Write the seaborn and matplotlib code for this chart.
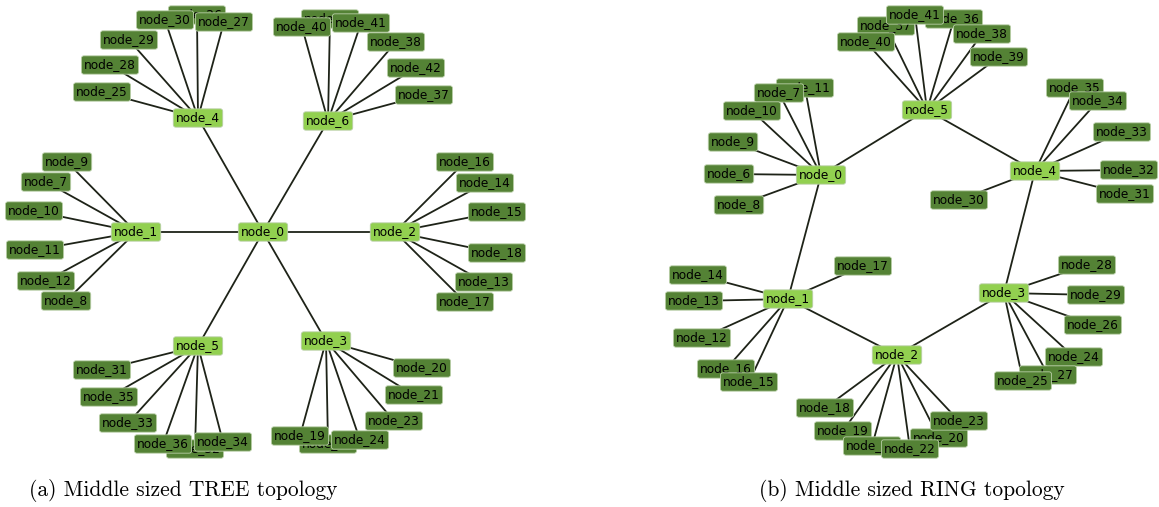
import matplotlib
matplotlib.use("Agg")
import matplotlib.pyplot as plt
import seaborn as sns
import pandas as pd

# ---------------- TREE topology ----------------
tree_hubs = ["node_0", "node_1", "node_2", "node_3", "node_4", "node_5", "node_6"]
tree_hub_x = [263, 136, 395, 326, 198, 198, 328]
tree_hub_y = [232, 232, 232, 341, 118, 346, 121]
tree_hub_links = [(0, 1), (0, 2), (0, 3), (0, 4), (0, 5), (0, 6)]

# leaves listed in drawing order (later ones sit on top)
tree_leaf_ids = [9, 7, 10, 11, 12, 8,
                 25, 28, 29, 26, 30, 27,
                 39, 40, 41, 38, 42, 37,
                 16, 14, 15, 18, 13, 17,
                 31, 35, 33, 32, 36, 34,
                 20, 21, 23, 22, 19, 24]
tree_leaf_parent = [1] * 6 + [4] * 6 + [6] * 6 + [2] * 6 + [5] * 6 + [3] * 6
tree_leaf_x = [67, 46, 34, 35, 46, 66,
               102, 110, 129, 197, 165, 224,
               330, 302, 361, 396, 416, 424,
               465, 485, 497, 497, 484, 465,
               102, 109, 128, 195, 163, 223,
               422, 414, 394, 328, 300, 360]
tree_leaf_y = [162, 182, 211, 250, 281, 301,
               92, 65, 40, 15, 20, 22,
               19, 27, 23, 42, 68, 95,
               162, 183, 212, 253, 282, 302,
               370, 397, 423, 449, 444, 442,
               368, 395, 421, 444, 436, 440]

# ---------------- RING topology ----------------
ring_hubs = ["node_0", "node_1", "node_2", "node_3", "node_4", "node_5"]
ring_hub_x = [821, 788, 897, 1004, 1035, 927]
ring_hub_y = [175, 299, 355, 293, 171, 110]
ring_hub_links = [(0, 5), (5, 4), (4, 3), (3, 2), (2, 1), (1, 0)]

ring_leaf_ids = [11, 7, 10, 9, 6, 8,
                 37, 36, 40, 41, 38, 39,
                 35, 34, 33, 32, 31, 30,
                 28, 29, 26, 24, 27, 25,
                 18, 19, 21, 20, 22, 23,
                 14, 13, 12, 17, 16, 15]
ring_leaf_parent = [0] * 6 + [5] * 6 + [4] * 6 + [3] * 6 + [2] * 6 + [1] * 6
ring_leaf_x = [805, 779, 752, 733, 729, 739,
               886, 954, 866, 915, 982, 999,
               1075, 1098, 1122, 1129, 1125, 959,
               1087, 1096, 1093, 1074, 1048, 1023,
               825, 843, 872, 939, 910, 959,
               698, 694, 702, 863, 726, 749]
ring_leaf_y = [88, 93, 111, 142, 174, 205,
               26, 19, 42, 15, 34, 57,
               88, 101, 132, 170, 194, 200,
               265, 295, 325, 357, 375, 381,
               408, 431, 446, 438, 449, 421,
               275, 301, 338, 266, 369, 382]

captions = ["(a) Middle sized TREE topology", "(b) Middle sized RING topology"]

HUB_COLOR = "#92D050"
LEAF_COLOR = "#548235"
EDGE_COLOR = "#1e2318"

sns.set_theme(style="white")

W, H = 1159, 507
fig = plt.figure(figsize=(W / 100, H / 100), dpi=100)
ax_tree = fig.add_axes([0, 0, 0.5, 1])
ax_ring = fig.add_axes([0.5, 0, 0.5, 1])


def edge_frame(hub_x, hub_y, links, leaf_parent, leaf_x, leaf_y):
    rows = []
    k = 0
    for a, b in links:
        rows.append((k, hub_x[a], hub_y[a]))
        rows.append((k, hub_x[b], hub_y[b]))
        k += 1
    for p, lx, ly in zip(leaf_parent, leaf_x, leaf_y):
        rows.append((k, hub_x[p], hub_y[p]))
        rows.append((k, lx, ly))
        k += 1
    return pd.DataFrame(rows, columns=["edge", "x", "y"])


def node_label(ax, x, y, text, face):
    ax.text(x, y, text, ha="center", va="center", fontsize=8.7,
            color="black", family="DejaVu Sans", zorder=3,
            bbox=dict(boxstyle="round,pad=0.22,rounding_size=0.2",
                      facecolor=face, edgecolor="#b9cfa8", linewidth=0.6))


def draw_graph(ax, hubs, hub_x, hub_y, links, leaf_ids, leaf_parent,
               leaf_x, leaf_y, caption, cap_x, xlim):
    edges = edge_frame(hub_x, hub_y, links, leaf_parent, leaf_x, leaf_y)
    sns.lineplot(data=edges, x="x", y="y", units="edge", estimator=None,
                 sort=False, color=EDGE_COLOR, linewidth=1.3, ax=ax, zorder=1)
    for lid, lx, ly in zip(leaf_ids, leaf_x, leaf_y):
        node_label(ax, lx, ly, f"node_{lid}", LEAF_COLOR)
    for name, hx, hy in zip(hubs, hub_x, hub_y):
        node_label(ax, hx, hy, name, HUB_COLOR)
    ax.text(cap_x, 491, caption, ha="center", va="center", fontsize=15.5,
            family="cmr10", color="black")
    ax.set_xlim(*xlim)
    ax.set_ylim(H, 0)
    ax.set_axis_off()


draw_graph(ax_tree, tree_hubs, tree_hub_x, tree_hub_y, tree_hub_links,
           tree_leaf_ids, tree_leaf_parent, tree_leaf_x, tree_leaf_y,
           captions[0], 183, (0, W / 2))
draw_graph(ax_ring, ring_hubs, ring_hub_x, ring_hub_y, ring_hub_links,
           ring_leaf_ids, ring_leaf_parent, ring_leaf_x, ring_leaf_y,
           captions[1], 912, (W / 2, W))

fig.savefig("out.png", dpi=100, facecolor="white")
